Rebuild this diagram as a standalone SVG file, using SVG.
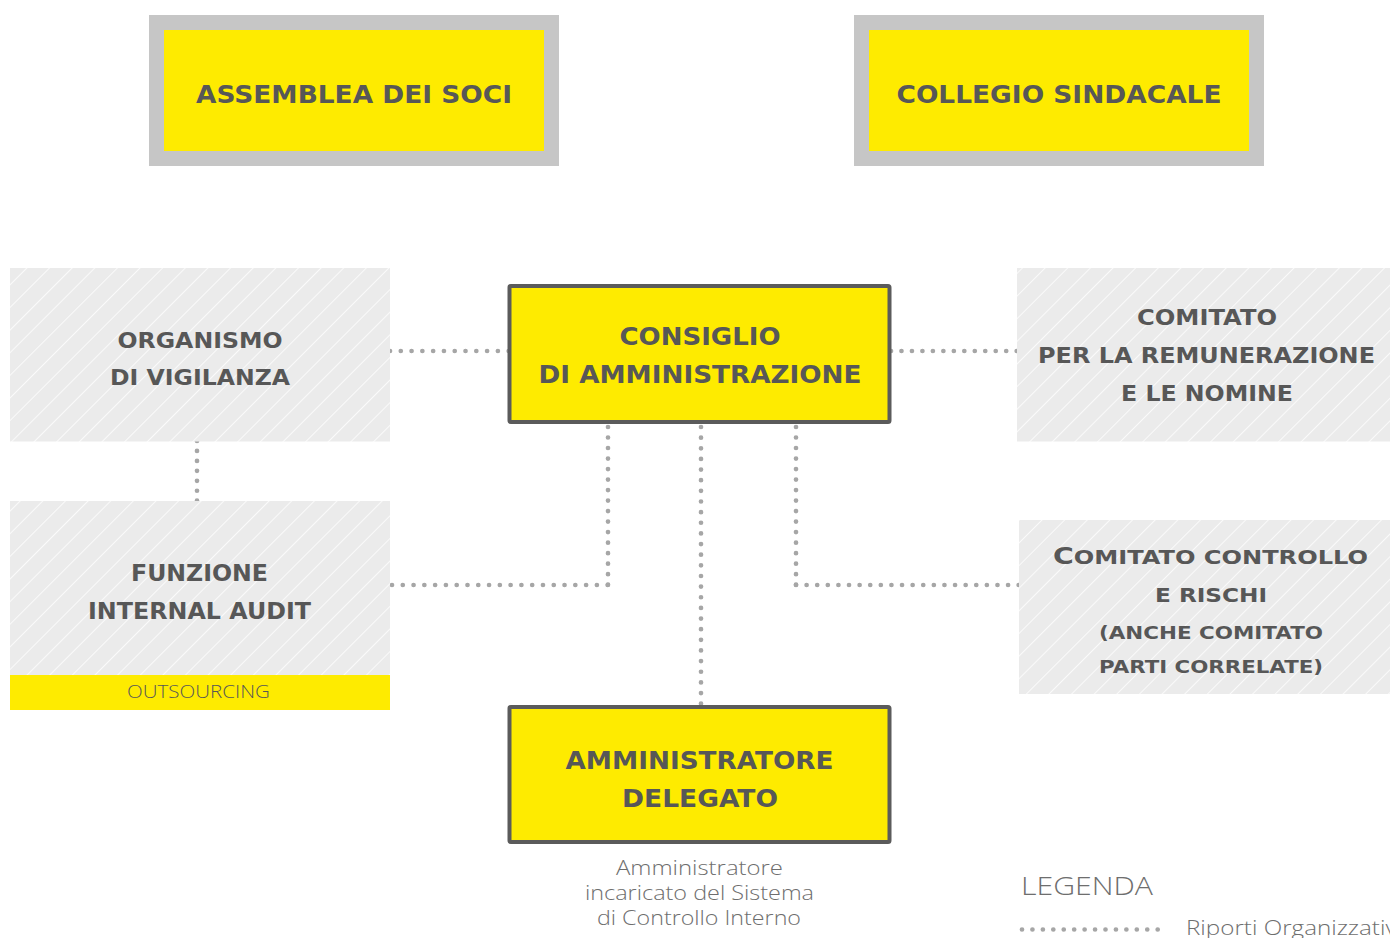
<svg xmlns="http://www.w3.org/2000/svg" width="1390" height="938" viewBox="0 0 1390 938">
<style>
.t{font-family:"DejaVu Sans","Open Sans",sans-serif;font-weight:700;fill:#575757;text-anchor:middle}
.l{font-family:"Open Sans","Liberation Sans",sans-serif;font-weight:300;fill:#6e6e6e}
.top{fill:#FEEB00;stroke:#C6C6C6;stroke-width:15}
.main{fill:#FEEB00;stroke:#5B5B5B;stroke-width:4}
.hat{fill:url(#hatch)}
.dot{fill:none;stroke:#A6A6A6;stroke-width:4.7;stroke-linecap:round}
</style>
<defs>
<pattern id="hatch" width="16" height="16" patternUnits="userSpaceOnUse" patternTransform="rotate(45)">
<rect width="16" height="16" fill="#EBEBEB"/>
<line x1="0" y1="0" x2="0" y2="16" stroke="#FFFFFF" stroke-width="1.6"/>
</pattern>
</defs>
<rect width="1390" height="938" fill="#FFFFFF"/>

<g id="connectors">
<path class="dot" d="M390,351 H509" pathLength="11.03" stroke-dasharray="0 1"/>
<path class="dot" d="M891,351 H1017" pathLength="12.03" stroke-dasharray="0 1"/>
<path class="dot" d="M197,441 V501" pathLength="6.03" stroke-dasharray="0 1"/>
<path class="dot" d="M608,427 V585" pathLength="15.03" stroke-dasharray="0 1"/>
<path class="dot" d="M392,585 H608" pathLength="20.03" stroke-dasharray="0 1"/>
<path class="dot" d="M701,427 V704" pathLength="26.03" stroke-dasharray="0 1"/>
<path class="dot" d="M796,427 V585" pathLength="15.03" stroke-dasharray="0 1"/>
<path class="dot" d="M796,585 H1019" pathLength="21.03" stroke-dasharray="0 1"/>
</g>

<g id="assemblea">
<rect class="top" x="156.5" y="22.5" width="395" height="136"/>
<text class="t" x="354" y="102.5" font-size="24" textLength="316" lengthAdjust="spacingAndGlyphs">ASSEMBLEA DEI SOCI</text>
</g>

<g id="collegio">
<rect class="top" x="861.5" y="22.5" width="395" height="136"/>
<text class="t" x="1059" y="102.5" font-size="24" textLength="325" lengthAdjust="spacingAndGlyphs">COLLEGIO SINDACALE</text>
</g>

<g id="organismo">
<rect class="hat" x="10" y="268" width="380" height="173.5"/>
<text class="t" x="200" y="347.5" font-size="20.5" textLength="165" lengthAdjust="spacingAndGlyphs">ORGANISMO</text>
<text class="t" x="200" y="384.5" font-size="20.5" textLength="180" lengthAdjust="spacingAndGlyphs">DI VIGILANZA</text>
</g>

<g id="consiglio">
<rect class="main" x="509.5" y="286" width="380" height="136" rx="1.5"/>
<text class="t" x="700" y="344.5" font-size="24" textLength="161" lengthAdjust="spacingAndGlyphs">CONSIGLIO</text>
<text class="t" x="700" y="382.5" font-size="24" textLength="323" lengthAdjust="spacingAndGlyphs">DI AMMINISTRAZIONE</text>
</g>

<g id="comitato-remunerazione">
<rect class="hat" x="1017" y="268" width="373" height="173.5"/>
<text class="t" x="1207" y="325" font-size="21" textLength="140" lengthAdjust="spacingAndGlyphs">COMITATO</text>
<text class="t" x="1206.5" y="362.5" font-size="21" textLength="337" lengthAdjust="spacingAndGlyphs">PER LA REMUNERAZIONE</text>
<text class="t" x="1207" y="401" font-size="21" textLength="172" lengthAdjust="spacingAndGlyphs">E LE NOMINE</text>
</g>

<g id="funzione-internal-audit">
<rect class="hat" x="10" y="501" width="380" height="174"/>
<rect x="10" y="675" width="380" height="35" fill="#FEEB00"/>
<text class="t" x="199.5" y="581" font-size="22.5" textLength="137" lengthAdjust="spacingAndGlyphs">FUNZIONE</text>
<text class="t" x="199.5" y="619" font-size="22.5" textLength="223" lengthAdjust="spacingAndGlyphs">INTERNAL AUDIT</text>
<text class="l" x="198.5" y="698" font-size="18.5" text-anchor="middle" style="fill:#575757" textLength="143" lengthAdjust="spacingAndGlyphs">OUTSOURCING</text>
</g>

<g id="comitato-controllo">
<rect class="hat" x="1019" y="520" width="371" height="174"/>
<text class="t" x="1210.5" y="564" font-size="20" textLength="315" lengthAdjust="spacingAndGlyphs"><tspan font-size="23.5">C</tspan>OMITATO CONTROLLO</text>
<text class="t" x="1211" y="601.5" font-size="20" textLength="112" lengthAdjust="spacingAndGlyphs">E RISCHI</text>
<text class="t" x="1211" y="639" font-size="18.5" textLength="224" lengthAdjust="spacingAndGlyphs">(ANCHE COMITATO</text>
<text class="t" x="1211" y="672.5" font-size="18.5" textLength="224" lengthAdjust="spacingAndGlyphs">PARTI CORRELATE)</text>
</g>

<g id="amministratore-delegato">
<rect class="main" x="509.5" y="707" width="380" height="135" rx="1.5"/>
<text class="t" x="699.5" y="769" font-size="24" textLength="268" lengthAdjust="spacingAndGlyphs">AMMINISTRATORE</text>
<text class="t" x="700" y="806.5" font-size="24" textLength="156" lengthAdjust="spacingAndGlyphs">DELEGATO</text>
<text class="l" x="699.5" y="875" font-size="20" text-anchor="middle" textLength="167" lengthAdjust="spacingAndGlyphs">Amministratore</text>
<text class="l" x="699.5" y="900" font-size="20" text-anchor="middle" textLength="229" lengthAdjust="spacingAndGlyphs">incaricato del Sistema</text>
<text class="l" x="699" y="925" font-size="20" text-anchor="middle" textLength="204" lengthAdjust="spacingAndGlyphs">di Controllo Interno</text>
</g>

<g id="legenda">
<text class="l" x="1021" y="895" font-size="25.5" textLength="132" lengthAdjust="spacingAndGlyphs">LEGENDA</text>
<path class="dot" d="M1022,929.5 H1158" pathLength="13.03" stroke-dasharray="0 1"/>
<text class="l" x="1186" y="935" font-size="20.5" textLength="216" lengthAdjust="spacingAndGlyphs">Riporti Organizzativi</text>
</g>
</svg>
